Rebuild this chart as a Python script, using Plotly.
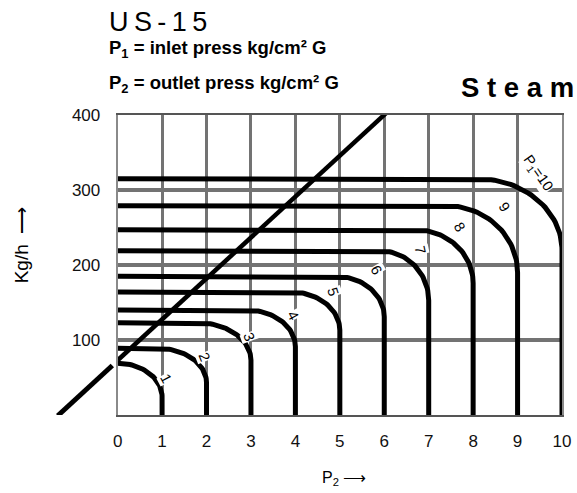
import numpy as np
import plotly.graph_objects as go

# ---- data ----
p1_values = [1, 2, 3, 4, 5, 6, 7, 8, 9, 10]          # inlet pressure of each curve
max_flow = [69, 89, 123, 140, 164, 185, 219, 247, 279, 315]   # flat (choked) flow, kg/h
knee_x = [0.0, 0.9, 1.8, 2.9, 3.9, 4.9, 5.9, 6.7, 7.4, 8.1]  # P2 where flow starts dropping
knee_y = [24, 43, 73, 91, 113, 131, 153, 176, 190, 220]      # flow where curve turns vertical
curve_labels = ["1", "2", "3", "4", "5", "6", "7", "8", "9", "P<sub>1</sub>=10"]
label_x = [1.08, 1.95, 2.96, 3.94, 4.85, 5.82, 6.81, 7.70, 8.70, 9.47]
label_y = [49, 77, 104, 133, 164, 193, 220, 251, 277, 322]
label_angle = [62, 68, 70, 62, 72, 60, 78, 58, 55, 55]

diag_lower_x = [-1.35, -0.12]
diag_lower_y = [-1, 66]
diag_upper_x = [0.0, 6.05]
diag_upper_y = [73, 403]

x_ticks = [0, 1, 2, 3, 4, 5, 6, 7, 8, 9, 10]
y_ticks = [100, 200, 300, 400]

FONT = "Liberation Sans, Arial, sans-serif"

# layout geometry (pixels)
W, H = 577, 493
ML, MR, MT, MB = 40, 6, 115, 78
PW = W - ML - MR
X0_PX = 119                                # pixel column of P2 = 0
split = (X0_PX - ML) / PW
X_LEFT_EXT = 10 * split / (1 - split)      # P2 range shown left of 0 (diagonal only)


def px(x):
    return (x - ML) / PW


def py(y):
    return (H - MB - y) / (H - MT - MB)


fig = go.Figure()

# flow curves: flat, quarter-elliptic knee, then vertical down to zero flow
t = np.linspace(0, np.pi / 2, 40)
for p1, f, kx, ky in zip(p1_values, max_flow, knee_x, knee_y):
    rx = p1 - kx
    ry = f - ky
    xs = [0.0] + list(kx + rx * np.sin(t)) + [p1]
    ys = [f] + list(ky + ry * np.cos(t)) + [0.0]
    fig.add_trace(go.Scatter(x=xs, y=ys, mode="lines",
                             line=dict(color="black", width=5),
                             hoverinfo="skip", showlegend=False))

# critical-pressure diagonal (lower piece lies left of the P2 = 0 axis)
fig.add_trace(go.Scatter(x=diag_lower_x, y=diag_lower_y, mode="lines",
                         xaxis="x2", yaxis="y2",
                         line=dict(color="black", width=5),
                         hoverinfo="skip", showlegend=False))
fig.add_trace(go.Scatter(x=diag_upper_x, y=diag_upper_y, mode="lines",
                         line=dict(color="black", width=4.5),
                         hoverinfo="skip", showlegend=False))

annotations = []
for txt, lx, ly, ang in zip(curve_labels, label_x, label_y, label_angle):
    annotations.append(dict(x=lx, y=ly, xref="x", yref="y", text=txt,
                            showarrow=False, textangle=ang,
                            font=dict(family=FONT, size=14.5, color="black"),
                            bgcolor="white", borderpad=0))

# titles / header texts
annotations += [
    dict(x=px(108), y=py(22), xref="paper", yref="paper", xanchor="left", yanchor="middle",
         text="U\u2009S\u2009-\u20091\u20095", showarrow=False,
         font=dict(family=FONT, size=27, color="black")),
    dict(x=px(108), y=py(49), xref="paper", yref="paper", xanchor="left", yanchor="middle",
         text="<b>P<sub>1</sub> = inlet press kg/cm² G</b>", showarrow=False,
         font=dict(family=FONT, size=18.5, color="black")),
    dict(x=px(108), y=py(84), xref="paper", yref="paper", xanchor="left", yanchor="middle",
         text="<b>P<sub>2</sub> = outlet press kg/cm² G</b>", showarrow=False,
         font=dict(family=FONT, size=18.5, color="black")),
    dict(x=px(585), y=py(88), xref="paper", yref="paper", xanchor="right", yanchor="middle",
         text="<b>S t e a m</b>", showarrow=False,
         font=dict(family=FONT, size=27.5, color="black")),
    dict(x=px(349), y=py(478), xref="paper", yref="paper", xanchor="center", yanchor="middle",
         text="P<sub>2</sub> ⟶", showarrow=False,
         font=dict(family=FONT, size=16, color="black")),
    dict(x=px(21), y=py(245), xref="paper", yref="paper", xanchor="center", yanchor="middle",
         text="Kg/h  ⟶", showarrow=False, textangle=-90,
         font=dict(family=FONT, size=19, color="black")),
]

fig.update_layout(
    width=W, height=H,
    margin=dict(l=ML, r=MR, t=MT, b=MB),
    paper_bgcolor="white", plot_bgcolor="white",
    annotations=annotations,
    showlegend=False,
    xaxis=dict(domain=[split, 1], range=[0, 10], tickvals=x_ticks,
               ticktext=[str(v) for v in x_ticks],
               showgrid=True, gridcolor="#737373", gridwidth=3,
               zeroline=False, showline=True, linecolor="#555555", linewidth=2,
               mirror=True, ticks="", ticklabelstandoff=10,
               ticklabeloverflow="allow",
               tickfont=dict(family=FONT, size=17, color="#111111")),
    yaxis=dict(range=[0, 400], tickvals=y_ticks, ticktext=[str(v) for v in y_ticks],
               showgrid=True, gridcolor="#737373", gridwidth=4,
               zeroline=False, showline=True, linecolor="#8a8a8a", linewidth=2,
               mirror=True, ticks="", ticklabelstandoff=12,
               ticklabeloverflow="allow",
               tickfont=dict(family=FONT, size=17, color="#111111")),
    xaxis2=dict(domain=[0, split], range=[-X_LEFT_EXT, 0], visible=False,
                anchor="y2", fixedrange=True),
    yaxis2=dict(range=[0, 400], visible=False, anchor="x2", fixedrange=True),
)

fig.write_html("out.html", config={"displayModeBar": False},
               post_script="document.body.style.margin='0px';")
